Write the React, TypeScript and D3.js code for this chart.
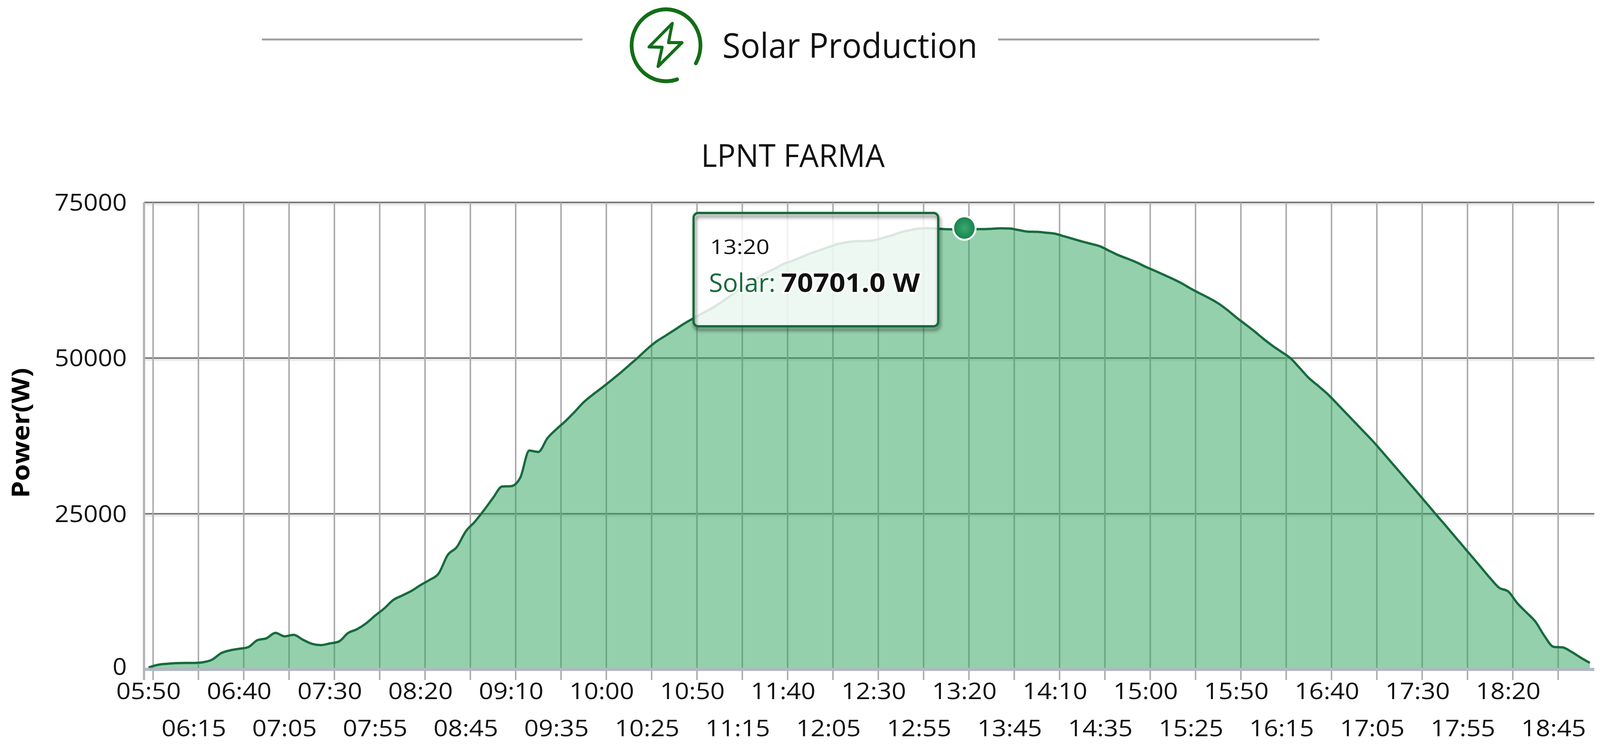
import React from "react";
import * as d3 from "d3";

const W = 4277;
const H = 1909;

const seriesName = "Solar";
const chartTitle = "LPNT FARMA";
const sectionTitle = "Solar Production";
const yAxisTitle = "Power(W)";
const yTicks = [0, 25000, 50000, 75000];
const upperTickLabels = ["05:50","06:40","07:30","08:20","09:10","10:00","10:50","11:40","12:30","13:20","14:10","15:00","15:50","16:40","17:30","18:20"];
const lowerTickLabels = ["06:15","07:05","07:55","08:45","09:35","10:25","11:15","12:05","12:55","13:45","14:35","15:25","16:15","17:05","17:55","18:45"];

const firstHours = [300,730,900,1000,1040,1040,1150,1560,2600,3060,3310,3580,4690,5000,5870,5310,5560,4790,4120,3900,4170,4480,5830,6460,7400,8650,9790,11150,11880,12600,13540,14370,15400];
const morning = [18370,19640,22180,23730,25560,27540,29370,29430,30780,35150,34930,37130,38590,39890,41360,42910,44120,45220,46380,47560,48830,50100,51450,52640,53570,54500,55460,56300];
const midday = [57100,57900,58800,59800,60900,61800,62700,63600,64300,65100,65600,66200,66800,67300,67800,68300,68600,68750,68800,68900,69300,69700,70200,70550,70800,70850,70800,70700,70680,70701];
const afternoon = [70710,70710,70770,70840,70810,70560,70310,70270,70140,69980,69560,69140,68720,68340,67930,67210,66520,65960,65370,64660,64030,63380,62710,61980,61140,60370,59630,58790,57730,56530,55420,54290,53080,51970,50980,49940];
const evening = [48390,46800,45580,44320,42840,41320,39800,38280,36760,35110,33420,31740,30050,28370,26650,24930,23250,21530,19810,18100,16380,14660,13110,12510,10630,9150,7660,5350,3630,3530,2800,1880,1050];
const solar = [...firstHours, ...morning, ...midday, ...afternoon, ...evening];

const categories = solar.map((_, i) => {
  const m = 350 + i * 5;
  return `${String(Math.floor(m / 60)).padStart(2, "0")}:${String(m % 60).padStart(2, "0")}`;
});
const hoverTime = "13:20";
const hoverValue = 70701;

const FONT = "'Open Sans', sans-serif";
const LINE = "#176b3d";

export default function App() {
  const x = d3.scaleBand<string>().domain(categories).range([385, 4262]);
  const y = d3.scaleLinear().domain([0, 75000]).range([1713, 518]);
  const cx = (c: string) => (x(c) as number) + x.bandwidth() / 2;
  const data = solar.map((v, i) => ({ c: categories[i], v }));
  const line = d3.line<{ c: string; v: number }>().x((d) => cx(d.c)).y((d) => y(d.v)).curve(d3.curveMonotoneX);
  const area = d3.area<{ c: string; v: number }>().x((d) => cx(d.c)).y0(y(0)).y1((d) => y(d.v)).curve(d3.curveMonotoneX);
  const grid = [0, ...categories.map((_, i) => i).filter((i) => i % 5 === 1)];
  const gridX = (i: number) => x(categories[i]) as number;
  const right = x.range()[1];

  return (
    <svg viewBox={`0 0 ${W} ${H}`} preserveAspectRatio="none" style={{ position: "absolute", left: 0, top: 0, width: "100vw", height: "100vh", background: "#fff" }}>
      <defs>
        <radialGradient id="dot">
          <stop offset="0%" stopColor="#3aa870" />
          <stop offset="100%" stopColor="#17824c" />
        </radialGradient>
        <filter id="shadow" x="-10%" y="-10%" width="120%" height="125%">
          <feDropShadow dx="3" dy="8" stdDeviation="5" floodColor="#000" floodOpacity="0.55" />
        </filter>
      </defs>

      <line x1={700} x2={1557} y1={101} y2={101} stroke="#a0a0a0" strokeWidth={5} />
      <line x1={2668} x2={3527} y1={101} y2={101} stroke="#a0a0a0" strokeWidth={5} />
      <g fill="none" stroke="#136e17" strokeWidth={10} strokeLinecap="round" strokeLinejoin="round">
        <path d="M1860,162 A92,92 0 1 0 1810,203" />
        <path d="M1797,60 L1735,120 L1770,121 L1759,170 L1823,109 L1787,109 Z" strokeWidth={8} />
      </g>
      <text x={1931} y={148} fontFamily={FONT} fontSize={88} textLength={682} lengthAdjust="spacingAndGlyphs" fill="#111">{sectionTitle}</text>
      <text x={1874} y={427} fontFamily={FONT} fontSize={80} textLength={491} lengthAdjust="spacingAndGlyphs" fill="#111">{chartTitle}</text>

      <g>
        {yTicks.map((t) => (
          <g key={t}>
            {t > 0 && <line x1={385} x2={right} y1={y(t) + 5} y2={y(t) + 5} stroke="#ececec" strokeWidth={6} />}
            {t > 0 && <line x1={385} x2={right} y1={y(t)} y2={y(t)} stroke="#767676" strokeWidth={4} />}
            <text x={339} y={y(t) + (t === 0 ? 14 : 21)} textAnchor="end" fontFamily={FONT} fontSize={60} textLength={t === 0 ? 38 : 193} lengthAdjust="spacingAndGlyphs" fill="#111">{t}</text>
          </g>
        ))}
        {grid.map((i) => (
          <line key={i} x1={gridX(i)} x2={gridX(i)} y1={518} y2={1740} stroke={i === 0 ? "#b4b4b4" : "#aaaaaa"} strokeWidth={i === 0 ? 6 : 4} />
        ))}
      </g>

      <path d={area(data) as string} fill="rgb(43,161,91)" fillOpacity={0.5} />
      <path d={line(data) as string} fill="none" stroke={LINE} strokeWidth={6} strokeLinejoin="round" />
      <line x1={385} x2={right} y1={y(0)} y2={y(0)} stroke="#b0b8c2" strokeWidth={8} />

      {upperTickLabels.map((l) => (
        <text key={l} x={cx(l)} y={1789} textAnchor="middle" fontFamily={FONT} fontSize={58} textLength={173} lengthAdjust="spacingAndGlyphs" fill="#111">{l}</text>
      ))}
      {lowerTickLabels.map((l) => (
        <text key={l} x={cx(l)} y={1884} textAnchor="middle" fontFamily={FONT} fontSize={58} textLength={173} lengthAdjust="spacingAndGlyphs" fill="#111">{l}</text>
      ))}
      <text transform={`translate(78,1108) rotate(-90)`} textAnchor="middle" fontFamily={FONT} fontWeight={700} fontSize={66} textLength={333} lengthAdjust="spacingAndGlyphs" fill="#000">{yAxisTitle}</text>

      <circle cx={cx(hoverTime)} cy={y(hoverValue) - 3} r={30} fill="url(#dot)" stroke="#fff" strokeWidth={5} />

      <rect x={1854} y={545} width={654} height={290} rx={12} fill="#fff" fillOpacity={0.84} />
      <rect x={1854} y={545} width={654} height={290} rx={12} fill="none" stroke={LINE} strokeWidth={6} filter="url(#shadow)" />
      <text x={1898} y={650} fontFamily={FONT} fontSize={52} textLength={159} lengthAdjust="spacingAndGlyphs" fill="#111">{hoverTime}</text>
      <text x={1895} y={747} fontFamily={FONT} fontSize={66} textLength={178} lengthAdjust="spacingAndGlyphs" fill={LINE} stroke="#fff" strokeOpacity={0.7} strokeWidth={10} paintOrder="stroke">{seriesName}:</text>
      <text x={2088} y={747} fontFamily={FONT} fontWeight={700} fontSize={66} textLength={371} lengthAdjust="spacingAndGlyphs" fill="#111" stroke="#fff" strokeOpacity={0.7} strokeWidth={10} paintOrder="stroke">{`${hoverValue.toFixed(1)} W`}</text>
    </svg>
  );
}
